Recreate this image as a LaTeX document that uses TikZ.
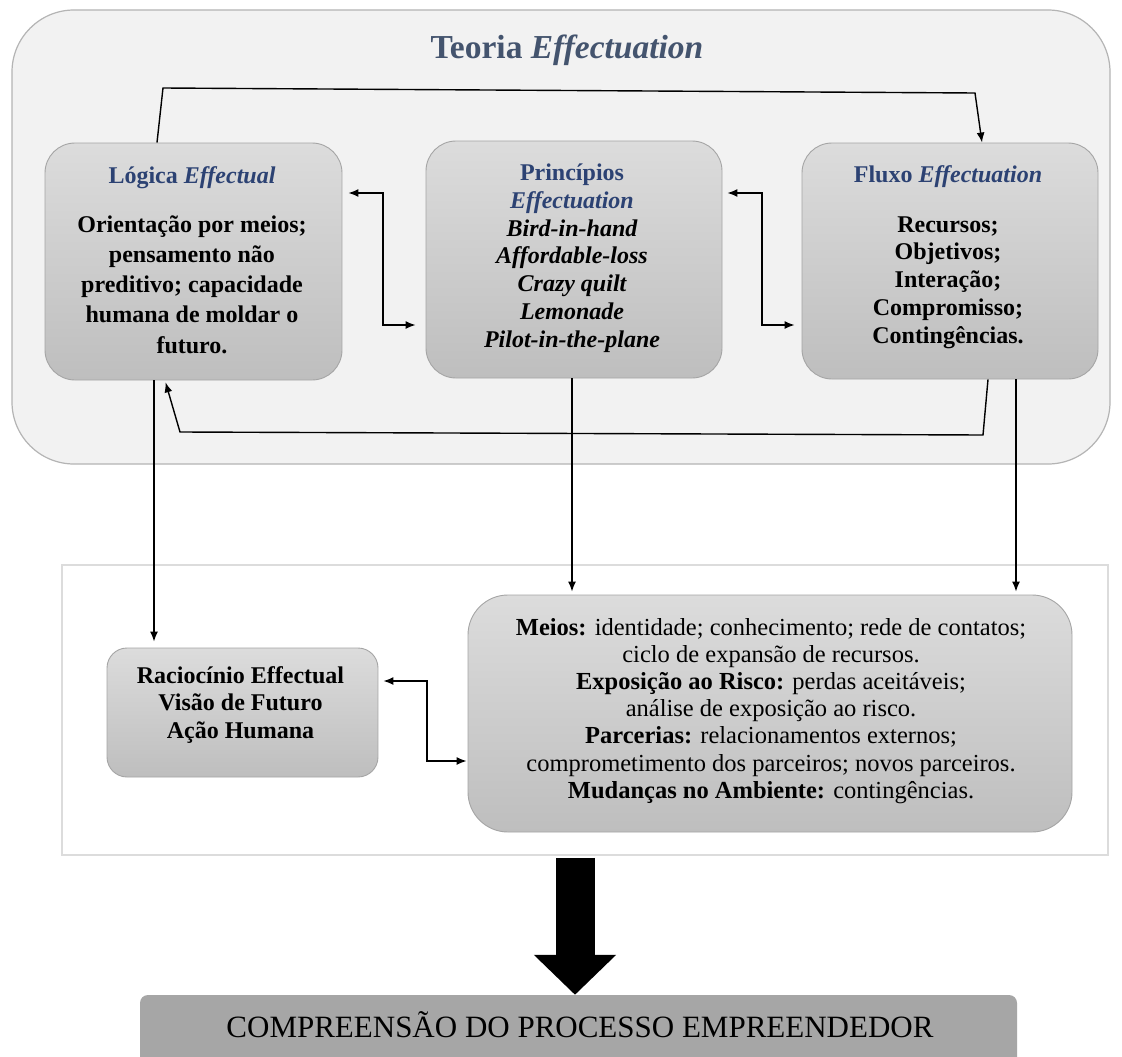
\documentclass[tikz,border=0pt]{standalone}
\usepackage{fontspec}
\setmainfont{Liberation Serif}
\usetikzlibrary{arrows.meta,calc}
\definecolor{ttl}{RGB}{68,84,110}
\definecolor{hdr}{RGB}{44,66,115}
\definecolor{boxtop}{RGB}{220,220,220}
\definecolor{boxbot}{RGB}{190,190,190}
\definecolor{boxline}{RGB}{165,165,165}
\definecolor{outerfill}{RGB}{242,242,242}
\definecolor{outerline}{RGB}{180,180,180}
\definecolor{frameline}{RGB}{220,220,220}
\definecolor{endfill}{RGB}{166,166,166}
\begin{document}
\begin{tikzpicture}[x=1pt,y=-1pt,
  card/.style={draw=boxline,line width=0.9pt,top color=boxtop,bottom color=boxbot,inner sep=0pt},
  arr/.style={line width=1.4pt,-{Latex[length=10pt,width=8pt]}},
  darr/.style={line width=1.4pt,{Latex[length=10pt,width=8pt]}-{Latex[length=10pt,width=8pt]}},
  hd/.style={anchor=base,inner sep=0pt,text=hdr,font=\fontsize{24}{28}\selectfont\bfseries},
  bd/.style={anchor=base,inner sep=0pt,font=\fontsize{24}{28}\selectfont\bfseries},
  bi/.style={anchor=base,inner sep=0pt,font=\fontsize{24}{28}\selectfont\bfseries\itshape},
  lw/.style={anchor=base,inner sep=0pt,font=\fontsize{24.5}{28}\selectfont}]
\path[use as bounding box,fill=white] (0,0) rectangle (1122,1057);

% upper frame
\node[draw=outerline,fill=outerfill,line width=1.2pt,rounded corners=62pt,
      minimum width=1098pt,minimum height=454pt,inner sep=0pt] (outer) at (561,237) {};
\node[anchor=base,inner sep=0pt,text=ttl,font=\fontsize{33.5}{38}\selectfont\bfseries]
      (title) at (567,59) {Teoria \textit{Effectuation}};

% three boxes
\node[card,rounded corners=30pt,minimum width=297pt,minimum height=237pt] (b1) at (193.5,261.5) {};
\node[card,rounded corners=30pt,minimum width=296pt,minimum height=237pt] (b2) at (574,259.5) {};
\node[card,rounded corners=30pt,minimum width=296pt,minimum height=236pt] (b3) at (950,261) {};

\node[hd] (b1h) at (192,183) {Lógica \textit{Effectual}};
\foreach \t [count=\i] in {{Orientação por meios;},{pensamento não},{preditivo; capacidade},{humana de moldar o},{futuro.}}
  \node[bd] (b1l\i) at (192,{232+30.25*(\i-1)}) {\t};

\node[hd] (b2h) at (572,180) {Princípios};
\node[hd,font=\fontsize{24}{28}\selectfont\bfseries\itshape] (b2h2) at (572,208) {Effectuation};
\foreach \t [count=\i] in {{Bird-in-hand},{Affordable-loss},{Crazy quilt},{Lemonade},{Pilot-in-the-plane}}
  \node[bi] (b2l\i) at (572,{236+27.8*(\i-1)}) {\t};

\node[hd] (b3h) at (948,182) {Fluxo \textit{Effectuation}};
\foreach \t [count=\i] in {{Recursos;},{Objetivos;},{Interação;},{Compromisso;},{Contingências.}}
  \node[bd] (b3l\i) at (948,{232+27.8*(\i-1)}) {\t};

% lower frame
\node[draw=frameline,line width=1.8pt,fill=white,minimum width=1046pt,minimum height=290pt,inner sep=0pt] (frame) at (585,710) {};
\node[card,rounded corners=20pt,minimum width=271pt,minimum height=129pt] (rac) at (242.5,712.5) {};
\node[card,rounded corners=40pt,minimum width=604pt,minimum height=237pt] (meios) at (770,713.5) {};

\foreach \t [count=\i] in {{Raciocínio Effectual},{Visão de Futuro},{Ação Humana}}
  \node[bd] (racl\i) at (240.5,{683+27.5*(\i-1)}) {\t};

\foreach \t [count=\i] in {{\textbf{Meios:} identidade; conhecimento; rede de contatos;},
   {ciclo de expansão de recursos.},
   {\textbf{Exposição ao Risco:} perdas aceitáveis;},
   {análise de exposição ao risco.},
   {\textbf{Parcerias:} relacionamentos externos;},
   {comprometimento dos parceiros; novos parceiros.},
   {\textbf{Mudanças no Ambiente:} contingências.}}
  \node[lw] (ml\i) at (771,{635+27.2*(\i-1)}) {\t};

% final box
\node[fill=endfill,rounded corners=8pt,minimum width=877pt,minimum height=72pt,inner sep=0pt] (fin) at (578.5,1031) {};
\node[anchor=base,inner sep=0pt,font=\fontsize{31}{34}\selectfont] (fint) at (580,1037) {COMPREENSÃO DO PROCESSO EMPREENDEDOR};

% helper coordinates
\coordinate (ta) at (157,0);
\coordinate (tb) at (163,88);
\coordinate (tc) at (975,93);
\coordinate (td) at (982,0);
\coordinate (ua) at (988,0);
\coordinate (ub) at (983,435);
\coordinate (uc) at (180,432);
\coordinate (ud) at (165,0);
\coordinate (ca) at (383,193);
\coordinate (cb) at (383,325);
\coordinate (cc) at (762,193);
\coordinate (cd) at (762,325);
\coordinate (va) at (154,0);
\coordinate (vb) at (572,0);
\coordinate (vc) at (1016,0);
\coordinate (ea) at (427,681);
\coordinate (eb) at (427,761);
\coordinate (ba) at (575,0);

% connectors
\draw[arr] (b1.north -| ta) -- (tb) -- (tc) -- (b3.north -| td);
\draw[arr,shorten >=2pt] (b3.south -| ua) -- (ub) -- (uc) -- (b1.south -| ud);
\draw[darr,shorten <=6pt,shorten >=10pt] (b1.east |- ca) -- (ca) -- (cb) -- (b2.west |- cb);
\draw[darr,shorten <=5pt,shorten >=7pt] (b2.east |- cc) -- (cc) -- (cd) -- (b3.west |- cd);
\draw[arr,shorten >=6pt] (b1.south -| va) -- (rac.north -| va);
\draw[arr,shorten >=3pt] (b2.south -| vb) -- (meios.north -| vb);
\draw[arr,shorten >=3pt] (b3.south -| vc) -- (meios.north -| vc);
\draw[darr,shorten <=5pt,shorten >=1pt] (rac.east |- ea) -- (ea) -- (eb) -- (meios.west |- eb);
\draw[line width=39pt,shorten <=2pt,-{Triangle[length=40pt,width=80pt]}] (frame.south -| ba) -- (fin.north -| ba);
\end{tikzpicture}
\end{document}
